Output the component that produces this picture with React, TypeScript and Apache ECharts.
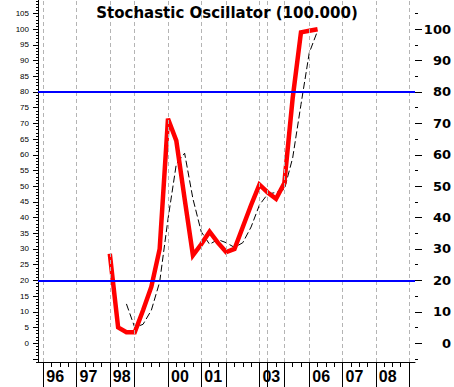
import React, { useEffect, useRef } from "react";
import * as echarts from "echarts";

// Quarterly bar index of each year boundary (bar 0 = start of 1996)
const yearBars = [0, 4, 8, 11, 15, 19, 22, 26, 27, 29, 32, 36, 40, 44];
const yearLabels = ["96", "97", "98", "", "00", "01", "", "03", "", "", "06", "07", "08", ""];

// %K (red) from bar 8, %D (black dashed) from bar 10
const stochKStart = 8;
const stochK = [
  28.5, 5, 3.5, 3.5, 10.5, 18, 30, 71.5, 64.5, 46, 28, 31.5, 35.5, 32, 29, 30,
  37, 44, 50.5, 48, 46, 51, 78, 99, 99.5, 100,
];
const stochDStart = 10;
const stochD = [
  12.5, 5, 6, 10.5, 19.5, 39.5, 57, 60.5, 46, 35.5, 31.5, 33, 32, 30.5, 32, 37,
  44, 47.5, 48, 49, 59, 76, 92.5, 99.5,
];

const leftLabels = [0, 5, 10, 15, 20, 25, 30, 35, 40, 45, 50, 55, 60, 65, 70, 75, 80, 85, 90, 95, 100, 105];
const rightLabels = [0, 10, 20, 30, 40, 50, 60, 70, 80, 90, 100];
const levelLines = [80, 20];

const xMin = -0.64;
const xMax = 44.72;
const yMin = -6;
const yMax = 109.3;

export default function App() {
  const ref = useRef<HTMLDivElement>(null);
  useEffect(() => {
    if (!ref.current) return;
    const chart = echarts.init(ref.current, null, { renderer: "svg" });

    const minorBars: number[] = [];
    for (let i = 0; i <= 44; i++) if (!yearBars.includes(i)) minorBars.push(i);
    const labeledBars = yearBars.filter((_, k) => yearLabels[k] !== "");
    const leftMinor: number[] = [];
    for (let v = -6; v <= 109; v++) leftMinor.push(v);
    const fives: number[] = [];
    for (let v = -5; v <= 105; v += 5) fives.push(v);

    const kData = stochK.map((v, k) => [stochKStart + k, v]);
    const dData = stochD.map((v, k) => [stochDStart + k, v]);

    const baseX = {
      type: "value",
      min: xMin,
      max: xMax,
      position: "bottom",
      splitLine: { show: false },
    };
    const baseY = {
      type: "value",
      min: yMin,
      max: yMax,
      splitLine: { show: false },
      offset: 0,
    };

    chart.setOption({
      animation: false,
      backgroundColor: "#ffffff",
      title: {
        text: "Stochastic Oscillator (100.000)",
        left: "center",
        top: 0,
        textStyle: {
          fontFamily: "DejaVu Sans",
          fontWeight: "bold",
          fontSize: 15,
          color: "#000",
        },
      },
      grid: { left: 38, right: 38, top: 0, bottom: 25, containLabel: false },
      xAxis: [
        {
          ...baseX,
          axisLine: { show: true, onZero: false, lineStyle: { color: "#000", width: 1 } },
          axisTick: { show: true, customValues: yearBars, length: 26, lineStyle: { color: "#000" } },
          axisLabel: {
            show: true,
            customValues: labeledBars,
            formatter: (v: number) => {
              const k = yearBars.indexOf(Math.round(v));
              return k >= 0 ? yearLabels[k] : "";
            },
            align: "left",
            padding: [0, 0, 0, 3],
            margin: 6,
            fontFamily: "Liberation Sans",
            fontWeight: "bold",
            fontSize: 16,
            color: "#000",
          },
        },
        {
          ...baseX,
          axisLine: { show: false, onZero: false },
          axisTick: { show: true, customValues: minorBars, length: 5, lineStyle: { color: "#000" } },
          axisLabel: { show: false },
        },
      ],
      yAxis: [
        {
          ...baseY,
          position: "left",
          axisLine: { show: true, onZero: false, lineStyle: { color: "#000", width: 1 } },
          axisTick: { show: true, customValues: fives, length: 5, lineStyle: { color: "#000" } },
          axisLabel: {
            show: true,
            customValues: leftLabels,
            margin: 9,
            fontFamily: "Liberation Sans",
            fontSize: 8,
            color: "#000",
          },
        },
        {
          ...baseY,
          position: "left",
          axisLine: { show: false, onZero: false },
          axisTick: { show: true, customValues: leftMinor, length: 2, lineStyle: { color: "#000" } },
          axisLabel: { show: false },
        },
        {
          ...baseY,
          position: "right",
          axisLine: { show: false, onZero: false },
          axisTick: { show: true, customValues: fives, length: 3, lineStyle: { color: "#000" } },
          axisLabel: { show: false },
        },
        {
          ...baseY,
          position: "right",
          axisLine: { show: false, onZero: false },
          axisTick: { show: true, customValues: rightLabels, length: 7, lineStyle: { color: "#000" } },
          axisLabel: {
            show: true,
            customValues: rightLabels,
            align: "right",
            margin: 36,
            fontFamily: "DejaVu Sans",
            fontWeight: "bold",
            fontSize: 13,
            color: "#000",
          },
        },
      ],
      series: [
        {
          type: "line",
          data: dData,
          xAxisIndex: 0,
          yAxisIndex: 0,
          showSymbol: false,
          lineStyle: { opacity: 0, width: 0 },
          z: 1,
          silent: true,
          markLine: {
            silent: true,
            symbol: "none",
            label: { show: false },
            lineStyle: { color: "#b4b4b4", type: [4, 3], width: 1 },
            data: yearBars.map((v) => ({ xAxis: v })),
          },
        },
        {
          type: "line",
          data: dData,
          xAxisIndex: 0,
          yAxisIndex: 0,
          showSymbol: false,
          lineStyle: { opacity: 0, width: 0 },
          z: 2,
          silent: true,
          markLine: {
            silent: true,
            symbol: "none",
            label: { show: false },
            lineStyle: { color: "#0000ff", type: "solid", width: 2 },
            data: levelLines.map((v) => ({ yAxis: v })),
          },
        },
        {
          type: "line",
          data: dData,
          xAxisIndex: 0,
          yAxisIndex: 0,
          showSymbol: false,
          lineStyle: { color: "#000", width: 1, type: [7, 3] },
          z: 3,
        },
        {
          type: "line",
          data: kData,
          xAxisIndex: 0,
          yAxisIndex: 0,
          showSymbol: false,
          lineStyle: { color: "#ff0000", width: 4.5, join: "miter" },
          z: 4,
        },
      ],
    });
    return () => chart.dispose();
  }, []);
  return (
    <div
      ref={ref}
      style={{ position: "fixed", left: 0, top: 0, width: 454, height: 387, background: "#fff" }}
    />
  );
}
